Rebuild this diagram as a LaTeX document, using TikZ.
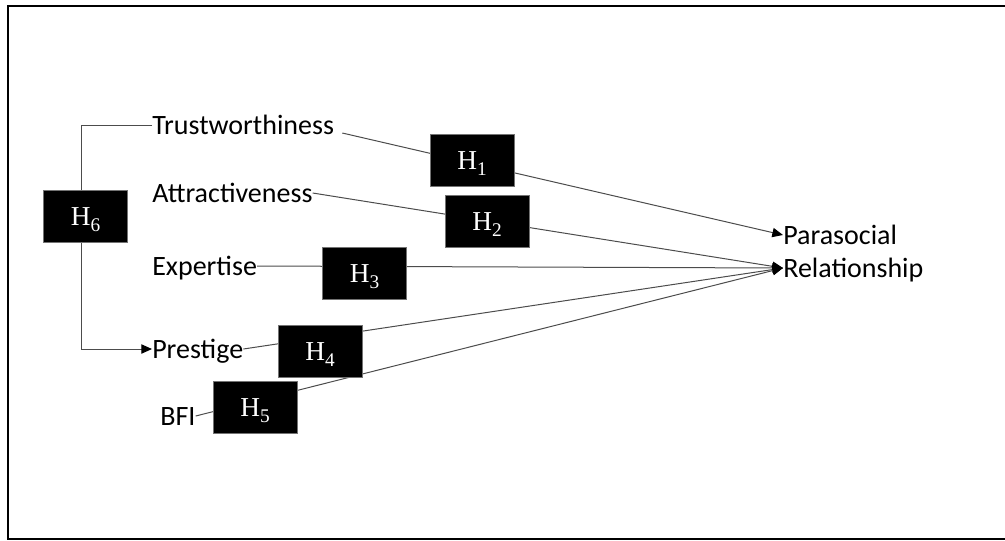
\documentclass[tikz,border=0pt]{standalone}
\usepackage{fontspec}
\setmainfont[Ligatures=Common]{Carlito}
\newfontfamily\hypfont{Liberation Serif}
\usetikzlibrary{arrows.meta}
% hypothesis label: H with a lowered index
\newcommand{\hyp}[1]{\hypfont H\raisebox{-4.5pt}{\fontsize{14.5}{14.5}\selectfont #1}}

\begin{document}
\begin{tikzpicture}[x=0.75pt,y=-0.75pt,
  lbl/.style={font=\fontsize{21}{25}\selectfont, inner sep=0pt,
              text height=13.5pt, text depth=0pt, anchor=west},
  hbox/.style={fill=black, draw=black!55, line width=0.6pt, text=white,
               minimum width=63pt, minimum height=39pt, inner sep=0pt,
               text height=13.6pt, text depth=0pt,
               font=\fontsize{20.5}{24}\selectfont},
  link/.style={draw=black!70, line width=0.75pt},
  tip/.style={-{Triangle[length=8pt,width=7pt,color=black]}},
  frame/.style={line width=1.6pt}
]
\useasboundingbox (0,0) rectangle (1005,540);

% outer frame (open on the right)
\draw[frame] (1005,6) -- (8,6) -- (8,539) -- (1005,539);

% constructs
\node[lbl] (trust) at (152,125) {Trustworthiness};
\node[lbl] (attr)  at (152,193) {Attractiveness};
\node[lbl] (exp)   at (152,266) {Expertise};
\node[lbl] (prest) at (152,349) {Prestige};
\node[lbl] (bfi)   at (160,416) {BFI};
\node[lbl] (para)  at (783,235) {Parasocial};
\node[lbl] (rel)   at (783,268) {Relationship};

% paths
\draw[link,tip] ([xshift=6pt,yshift=-6pt]trust.east) -- (para.west);
\draw[link,tip] (attr.east) -- (rel.west);
\draw[link,tip] (exp.east) -- (rel.west);
\draw[link,tip] (prest.east) -- (rel.west);
\draw[link,tip] (bfi.east) -- (rel.west);
\draw[link,tip] (trust.west) -- ++(-71,0) |- (prest.west);

% hypothesis boxes
\node[hbox] (h1) at (472,160)   {\hyp{1}};
\node[hbox] (h2) at (487,221)   {\hyp{2}};
\node[hbox] (h3) at (364.5,273.5) {\hyp{3}};
\node[hbox] (h4) at (320,351.5) {\hyp{4}};
\node[hbox] (h5) at (255,407.5) {\hyp{5}};
\node[hbox] (h6) at (85.5,216)  {\hyp{6}};
\end{tikzpicture}
\end{document}
